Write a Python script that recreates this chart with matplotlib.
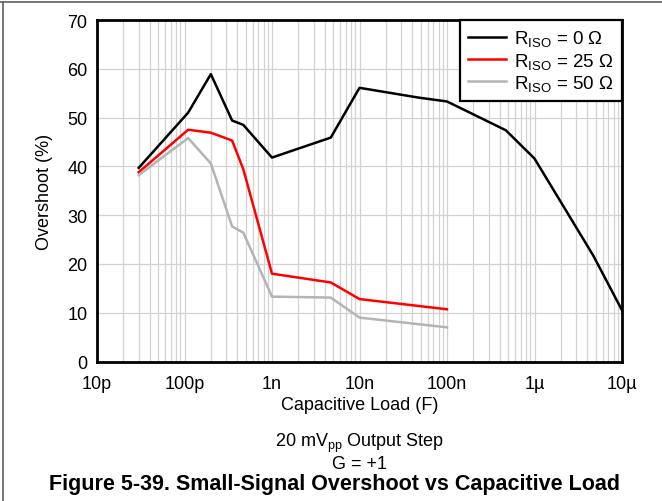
import matplotlib
matplotlib.use("Agg")
import matplotlib.pyplot as plt
from matplotlib import font_manager
from matplotlib.lines import Line2D
from matplotlib.ticker import LogLocator, FixedLocator, NullFormatter

# fonts
plt.rcParams['font.family'] = ['Liberation Sans', 'DejaVu Sans']
plt.rcParams['mathtext.fontset'] = 'custom'
plt.rcParams['mathtext.rm'] = 'Liberation Sans'
plt.rcParams['mathtext.it'] = 'Liberation Sans:italic'

names = {f.name for f in font_manager.fontManager.ttflist}
narrow = 'Liberation Sans Narrow' if 'Liberation Sans Narrow' in names else 'Liberation Sans'

### data ###
x_r0 = [30e-12, 110e-12, 200e-12, 350e-12, 470e-12, 1e-9, 4.7e-9, 10e-9, 47e-9,
        100e-9, 470e-9, 1e-6, 4.7e-6, 10e-6]
y_r0 = [39.7, 51.0, 58.9, 49.4, 48.5, 41.8, 45.9, 56.1, 54.1, 53.3, 47.4, 41.6, 21.7, 10.5]

x_r25 = [30e-12, 110e-12, 200e-12, 350e-12, 470e-12, 1e-9, 4.7e-9, 10e-9, 100e-9]
y_r25 = [38.8, 47.5, 46.9, 45.3, 39.4, 18.0, 16.2, 12.8, 10.7]

x_r50 = [30e-12, 110e-12, 200e-12, 350e-12, 470e-12, 1e-9, 4.7e-9, 10e-9, 100e-9]
y_r50 = [38.2, 45.8, 40.6, 27.7, 26.4, 13.3, 13.1, 9.0, 7.0]

xticks = [10e-12, 100e-12, 1e-9, 10e-9, 100e-9, 1e-6, 10e-6]
xticklabels = ['10p', '100p', '1n', '10n', '100n', '1\u00b5', '10\u00b5']
yticks = [0, 10, 20, 30, 40, 50, 60, 70]

labels = [r'R$_{\mathrm{ISO}}$ = 0 $\Omega$', r'R$_{\mathrm{ISO}}$ = 25 $\Omega$',
          r'R$_{\mathrm{ISO}}$ = 50 $\Omega$']

### plot ###
fig = plt.figure(figsize=(6.62, 5.02), dpi=100)
ax = fig.add_axes([97 / 662, 1 - 362.5 / 502, 525 / 662, 341.5 / 502])

ax.plot(x_r0, y_r0, color='black', lw=1.8, label=labels[0], zorder=3)
ax.plot(x_r25, y_r25, color='#ff0000', lw=1.8, label=labels[1], zorder=3)
ax.plot(x_r50, y_r50, color='#b4b4b4', lw=1.8, label=labels[2], zorder=3)

ax.set_xscale('log')
ax.set_xlim(10e-12, 10e-6)
ax.set_ylim(0, 70)
ax.xaxis.set_major_locator(FixedLocator(xticks))
ax.set_xticklabels(xticklabels)
ax.xaxis.set_minor_locator(LogLocator(base=10, subs=range(2, 10), numticks=20))
ax.xaxis.set_minor_formatter(NullFormatter())
ax.set_yticks(yticks)

ax.grid(True, which='both', axis='x', color='#d2d2d2', lw=0.9)
ax.grid(True, which='major', axis='y', color='#d2d2d2', lw=0.9)
ax.set_axisbelow(True)
ax.tick_params(which='both', length=0, labelsize=13)
ax.tick_params(axis='x', pad=10)
ax.tick_params(axis='y', pad=7)
for s in ax.spines.values():
    s.set_linewidth(2.0)

ax.set_ylabel('Overshoot (%)', fontsize=13, labelpad=10)

leg = ax.legend(loc='upper right', fontsize=13.5, frameon=True, fancybox=False,
                borderaxespad=0, handlelength=2.0, handletextpad=0.45,
                labelspacing=0.12, borderpad=0.45)
leg.get_frame().set_edgecolor('black')
leg.get_frame().set_linewidth(1.6)
leg.get_frame().set_alpha(1)

# text under the chart
cx = (97 + 622) / 2 / 662
fig.text(cx, 1 - 406 / 502, 'Capacitive Load (F)', ha='center', va='center', fontsize=13)
fig.text(cx, 1 - 443 / 502, r'20 mV$_{\mathrm{pp}}$ Output Step', ha='center', va='center', fontsize=13)
fig.text(cx, 1 - 465 / 502, 'G = +1', ha='center', va='center', fontsize=13)
fig.text(0.505, 1 - 485 / 502, 'Figure 5-39. Small-Signal Overshoot vs Capacitive Load',
         ha='center', va='center', fontsize=15.5, fontweight='bold', family=narrow)

# page border (top and left)
fig.add_artist(Line2D([0, 1], [1 - 3 / 502, 1 - 3 / 502], transform=fig.transFigure,
                      color='#606060', lw=1.2))
fig.add_artist(Line2D([3 / 662, 3 / 662], [0, 1 - 3 / 502], transform=fig.transFigure,
                      color='#606060', lw=1.2))

fig.savefig('out.png', dpi=100)
